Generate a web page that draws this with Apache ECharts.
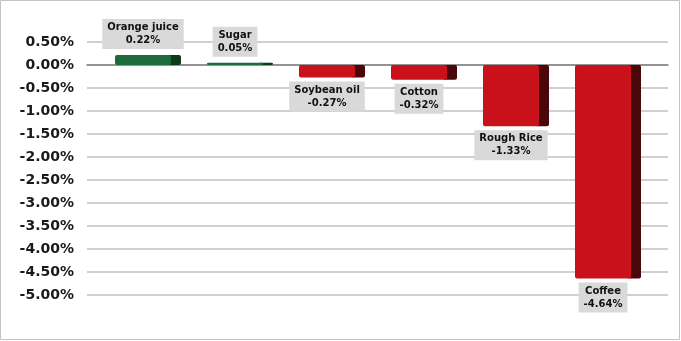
<!DOCTYPE html>
<html>
<head>
<meta charset="utf-8">
<script src="https://cdn.jsdelivr.net/npm/echarts@6/dist/echarts.min.js"></script>
<style>
html,body{margin:0;padding:0;background:#fff;}
#c{width:681px;height:341px;}
</style>
</head>
<body>
<div id="c"></div>
<script>
const categories = ['Orange juice', 'Sugar', 'Soybean oil', 'Cotton', 'Rough Rice', 'Coffee'];
const values = [0.22, 0.05, -0.27, -0.32, -1.33, -4.64];
const yMin = -5, yMax = 0.5, yStep = 0.5;

const chart = echarts.init(document.getElementById('c'), null, {renderer: 'canvas'});
const labelFont = 'bold 10px "DejaVu Sans", Verdana, sans-serif';

chart.setOption({
  animation: false,
  backgroundColor: '#fff',
  graphic: [{
    type: 'rect', z: 100, silent: true,
    shape: {x: 0.5, y: 0.5, width: 679, height: 339},
    style: {fill: 'none', stroke: '#c3c3c3', lineWidth: 1}
  }],
  grid: [
    {left: 87, right: 13, top: 42, bottom: 46},
    {left: 97, right: 32, top: 42, bottom: 46}
  ],
  xAxis: [
    {type: 'category', gridIndex: 0, data: categories,
     axisLine: {show: true, onZero: true, lineStyle: {color: '#7f7f7f', width: 1.5}},
     axisTick: {show: false}, axisLabel: {show: false}, splitLine: {show: false}},
    {type: 'category', gridIndex: 1, data: categories,
     axisLine: {show: false}, axisTick: {show: false}, axisLabel: {show: false}, splitLine: {show: false}}
  ],
  yAxis: [
    {type: 'value', gridIndex: 0, min: yMin, max: yMax, interval: yStep,
     axisLine: {show: false}, axisTick: {show: false},
     axisLabel: {margin: 13, color: '#1a1a1a', fontSize: 14, fontWeight: 'bold',
       fontFamily: '"DejaVu Sans", Verdana, sans-serif',
       formatter: v => v.toFixed(2) + '%'},
     splitLine: {show: true, lineStyle: {color: '#c0c0c0', width: 1.5}}},
    {type: 'value', gridIndex: 1, min: yMin, max: yMax, interval: yStep,
     axisLine: {show: false}, axisTick: {show: false}, axisLabel: {show: false}, splitLine: {show: false}}
  ],
  series: [{
    type: 'custom',
    xAxisIndex: 1, yAxisIndex: 1,
    data: values.map((v, i) => [i, v]),
    z: 10,
    renderItem: function (params, api) {
      const i = api.value(0), v = api.value(1);
      const p0 = api.coord([i, 0]);
      const p1 = api.coord([i, v]);
      const cx = p0[0];
      const top = Math.min(p0[1], p1[1]);
      const h = Math.max(Math.abs(p1[1] - p0[1]), 1.5);
      const pos = v >= 0;
      const front = pos ? '#1c6b3b' : '#c8111b';
      const side = pos ? '#0c3a1f' : '#4a0609';
      const txt = categories[i] + '\n' + v.toFixed(2) + '%';
      return {
        type: 'group',
        children: [
          {type: 'rect', shape: {x: cx + 24, y: top, width: 14, height: h, r: 2}, style: {fill: side}},
          {type: 'rect', shape: {x: cx - 28, y: top, width: 56, height: h, r: 2}, style: {fill: front}},
          {type: 'text', z2: 20,
           style: {
             text: txt, x: cx, y: pos ? p1[1] - 6 : p1[1] + 4,
             align: 'center', verticalAlign: pos ? 'bottom' : 'top',
             font: labelFont, fill: '#111', lineHeight: 13,
             backgroundColor: '#d9d9d9', padding: [2, 5, 2, 5]
           }}
        ]
      };
    }
  }]
});
</script>
</body>
</html>
